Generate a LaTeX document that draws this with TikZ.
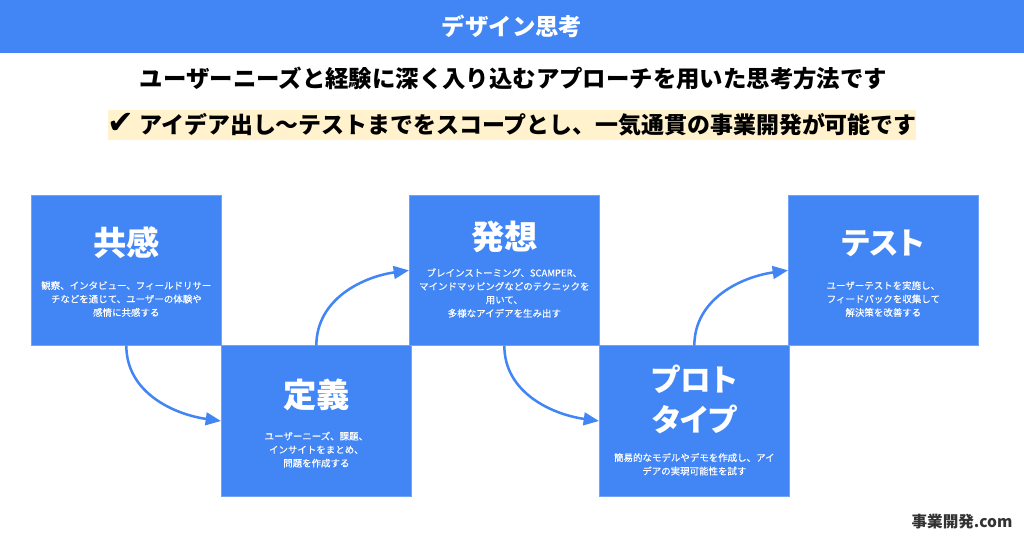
\documentclass[tikz,border=0pt]{standalone}
\usepackage{fontspec}
\setmainfont{Noto Sans CJK JP}
\newfontfamily\checkfont{DejaVu Sans}
\newfontfamily\stepfont[FakeBold=0.25]{Noto Sans CJK JP}
\usetikzlibrary{arrows.meta,positioning}
\definecolor{stepblue}{HTML}{4285F4}
\definecolor{notecream}{HTML}{FFF2CC}
\definecolor{wmarkgray}{HTML}{333333}

\begin{document}
\begin{tikzpicture}[
    x=0.75pt, y=-0.75pt,
    stepbox/.style={draw=stepblue!75!white, line width=0.4pt, fill=stepblue, minimum width=143pt,
      minimum height=113pt, inner sep=0pt, outer sep=0pt},
    headtext/.style={text=white, align=center, font=\fontsize{25}{30}\selectfont\bfseries},
    kanahead/.style={headtext, font=\fontsize{23}{30}\selectfont\bfseries\addfontfeatures{RawFeature=+palt}},
    bodytext/.style={text=white, align=center, font=\stepfont\fontsize{7.1}{10.1}\selectfont},
    linetext/.style={align=center, font=\fontsize{17.55}{22}\selectfont\bfseries},
    arrow/.style={-{Triangle[length=11.5pt,width=9.5pt]}, line width=1.9pt, draw=stepblue}
  ]
    \useasboundingbox (0,0) rectangle (1024,538);

    \node[fill=stepblue, minimum width=768pt, minimum height=39.75pt, inner sep=0pt, outer sep=0pt,
      anchor=north west] (band) at (0,0) {};
    \node[linetext, text=white] (title) at (band.center) {デザイン思考};
    \node[linetext] (lead) at (513.5,78) {ユーザーニーズと経験に深く入り込むアプローチを用いた思考方法です};
    \node[fill=notecream, minimum width=606pt, minimum height=22.5pt, inner sep=0pt, outer sep=0pt] (noteback) at (512,125) {};
    \node[linetext] (note) at (noteback.center) {{\checkfont\fontsize{24}{22}\selectfont ✔} \fontsize{17.2}{22}\selectfont アイデア出し〜テストまでをスコープとし、一気通貫の事業開発が可能です};

    % five steps
    \node[stepbox, anchor=north west] (empathy) at (31,195) {};
    \node[stepbox, below right=0pt and -0.5pt of empathy] (define) {};
    \node[stepbox, above right=0pt and -2pt of define] (ideate) {};
    \node[stepbox, below right=0pt and -0.5pt of ideate] (proto) {};
    \node[stepbox, above right=0pt and -1.25pt of proto] (testing) {};

    \node[headtext] (empathyhead) at ([yshift=-36pt]empathy.north) {共感};
    \node[bodytext] (empathybody) at ([yshift=-78pt]empathy.north) {観察、インタビュー、フィールドリサー\\
    チなどを通じて、ユーザーの体験や\\
    感情に共感する};
    \node[headtext] (definehead) at ([yshift=-37pt]define.north) {定義};
    \node[bodytext] (definebody) at ([yshift=-78pt]define.north) {ユーザーニーズ、課題、\\
    インサイトをまとめ、\\
    問題を作成する};
    \node[headtext] (ideatehead) at ([yshift=-31.5pt]ideate.north) {発想};
    \node[bodytext] (ideatebody) at ([yshift=-73.5pt]ideate.north) {ブレインストーミング、SCAMPER、\\
    マインドマッピングなどのテクニックを\\
    用いて、\\
    多様なアイデアを生み出す};
    \node[kanahead] (protohead) at ([yshift=-40.5pt]proto.north) {プロト\\タイプ};
    \node[bodytext] (protobody) at ([yshift=-89pt]proto.north) {簡易的なモデルやデモを作成し、アイ\\
    デアの実現可能性を試す};
    \node[kanahead] (testinghead) at ([yshift=-36pt]testing.north) {テスト};
    \node[bodytext] (testingbody) at ([yshift=-78pt]testing.north) {ユーザーテストを実施し、\\
    フィードバックを収集して\\
    解決策を改善する};

    \draw[arrow] (empathy.south) to[out=-90, in=172] (define.west);
    \draw[arrow] (define.north) to[out=90, in=188] (ideate.west);
    \draw[arrow] (ideate.south) to[out=-90, in=172] (proto.west);
    \draw[arrow] (proto.north) to[out=90, in=188] (testing.west);

    \node[font=\fontsize{11.7}{13}\selectfont\bfseries, text=wmarkgray, inner sep=0pt] (wmark) at (962,522) {事業開発.com};
  \end{tikzpicture}
\end{document}
